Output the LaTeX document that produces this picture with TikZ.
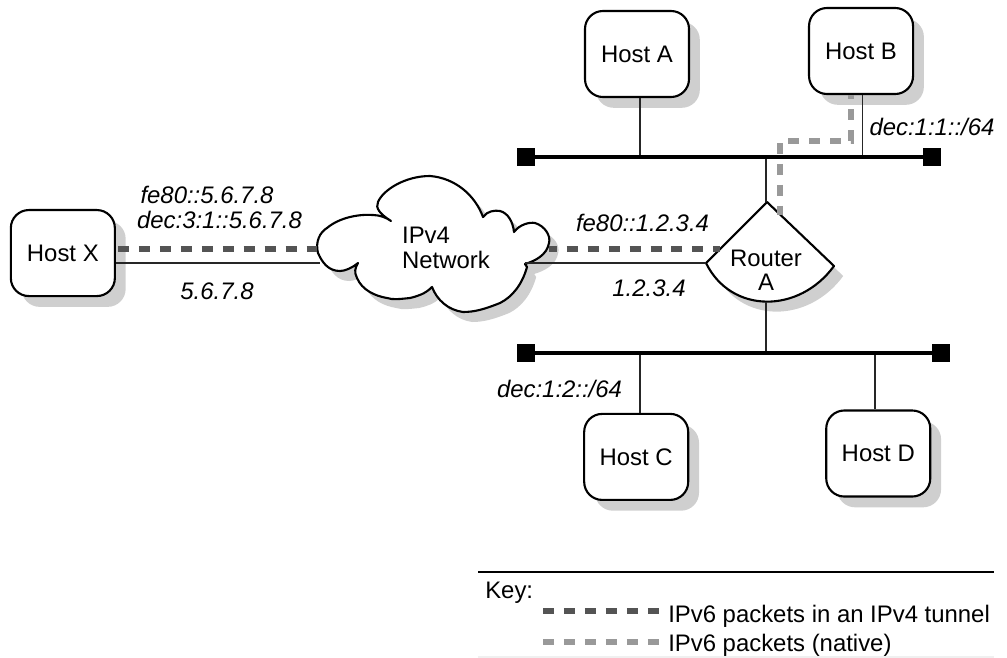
\documentclass[tikz,border=0pt]{standalone}
\usepackage{fontspec}
\setmainfont{Liberation Sans}
\usetikzlibrary{shadows, positioning}
\definecolor{shadowGrey}{gray}{0.81}
\definecolor{tunnelGrey}{gray}{0.33}
\definecolor{nativeGrey}{gray}{0.6}
\tikzset{%
  % Specifications for style of nodes:
    base/.style = {inner sep=0pt, font=\fontsize{17}{17.3}\selectfont, align=center},
    hostBox/.style = {base, rectangle, rounded corners=0.45cm, draw=black, fill=white, line width=1.5pt,
                   minimum width=2.6cm, minimum height=2.15cm,
                   general shadow={shadow xshift=0.27cm, shadow yshift=-0.27cm, fill=shadowGrey}},
    addr/.style = {base, font=\fontsize{17}{17.3}\selectfont\itshape},
    busEnd/.style = {rectangle, fill=black, inner sep=0pt, minimum size=0.46cm},
    keyText/.style = {base, anchor=base west},
  % Specifications for style of lines:
    wire/.style = {line width=0.75pt, black!85},
    busLine/.style = {line width=3.5pt},
    tunnel/.style = {line width=4.6pt, tunnelGrey, dash pattern=on 7.8pt off 7.1pt},
    native/.style = {line width=4.6pt, nativeGrey, dash pattern=on 7.8pt off 7.1pt},
    outline/.style = {draw=black, fill=white, line width=1.5pt, line join=round,
                   general shadow={shadow xshift=0.23cm, shadow yshift=-0.25cm, fill=shadowGrey}},
}
\begin{document}
\begin{tikzpicture}[x=0.025cm, y=-0.025cm, node distance=1.5cm]
  \useasboundingbox (0,0) rectangle (1007,658);

  \node (hostA)      [hostBox] at (637,54) {Host A};
  \node (hostB)      [hostBox, right of=hostA, xshift=4.1cm, yshift=0.075cm] {Host B};
  \node (hostC)      [hostBox, below of=hostA, xshift=-0.02cm, yshift=-8.57cm] {Host C};
  \node (hostD)      [hostBox, below of=hostB, xshift=0.43cm, yshift=-8.56cm] {Host D};
  \node (hostX)      [hostBox, left of=hostA, xshift=-12.85cm, yshift=-4.975cm] {Host X};

  \node (busAWest)   [busEnd] at (526,157) {};
  \node (busAEast)   [busEnd] at (932,157) {};
  \node (busBWest)   [busEnd] at (526,353) {};
  \node (busBEast)   [busEnd] at (941,353) {};

  \coordinate (routerTop) at (767,202);
  \coordinate (routerRight) at (834,266);
  \coordinate (routerLeft) at (706,263);
  \coordinate (routerBottom) at (766,302);
  \draw[outline] (routerTop) -- (routerRight)
     .. controls (799,314) and (731,314) .. (routerLeft) -- cycle;
  \node (routerA)    [base, below of=hostA, xshift=3.225cm, yshift=-3.91cm] {Router\\A};

  % Cloud outline
  \draw[outline] (391,221) .. controls (380,214) and (375,208) .. (378,202)
     .. controls (383,190) and (405,176) .. (430,176)
     .. controls (455,178) and (475,195) .. (483,217)
     .. controls (487,211) and (495,210) .. (500,211)
     .. controls (508,213) and (513,222) .. (514,232)
     .. controls (520,224) and (530,222) .. (535,223)
     .. controls (545,226) and (551,236) .. (549,243)
     .. controls (547,255) and (535,261) .. (525,264) -- (527,267)
     .. controls (522,285) and (512,297) .. (500,303)
     .. controls (485,309) and (475,312) .. (463,312)
     .. controls (448,310) and (437,300) .. (432,287)
     .. controls (425,294) and (418,296) .. (410,298)
     .. controls (400,299) and (393,300) .. (387,298)
     .. controls (375,296) and (362,290) .. (357,278)
     .. controls (354,272) and (355,268) .. (358,263)
     .. controls (352,268) and (345,271) .. (340,271)
     .. controls (328,271) and (322,262) .. (318,253)
     .. controls (315,242) and (320,232) .. (327,228)
     .. controls (340,217) and (360,214) .. (373,215)
     .. controls (380,215) and (387,218) .. (391,221) -- cycle;
  \node (ipvNetwork) [base, align=left, left of=hostA, xshift=-3.275cm, yshift=-4.85cm] {IPv4\\Network};

  \node (addrXLink)  [addr] at (207,195) {fe80::5.6.7.8};
  \node (addrXSite)  [addr] at (219.5,220) {dec:3:1::5.6.7.8};
  \node (addrXFour)  [addr] at (217,291) {5.6.7.8};
  \node (addrRLink)  [addr] at (642.5,223) {fe80::1.2.3.4};
  \node (addrRFour)  [addr] at (649,288) {1.2.3.4};
  \node (subnetA)    [addr] at (932,127) {dec:1:1::/64};
  \node (subnetB)    [addr] at (559.5,389) {dec:1:2::/64};

  \coordinate (auxNode1) at (640,157);
  \coordinate (auxNode2) at (862.7,157);
  \coordinate (auxNode3) at (640,353);
  \coordinate (auxNode4) at (875,353);
  \coordinate (auxNode5) at (320,263);
  \coordinate (auxNode6) at (525,263);
  \coordinate (auxNode7) at (118,249);
  \coordinate (auxNode8) at (317,249);
  \coordinate (auxNode9) at (549,249);
  \coordinate (auxNode10) at (719.5,249);
  \coordinate (auxNode11) at (851,141);
  \coordinate (auxNode12) at (780,141);
  \coordinate (auxNode13) at (780,215);

  % Specification of lines between nodes
  \draw[wire]    (hostA.south -| auxNode1) -- (auxNode1);
  \draw[wire]    (hostB.south -| auxNode2) -- (auxNode2);
  \draw[wire]    (auxNode3) -- (hostC.north -| auxNode3);
  \draw[wire]    (auxNode4) -- (hostD.north -| auxNode4);
  \draw[wire]    (routerTop -| routerBottom) -- (routerBottom |- busAWest);
  \draw[wire]    (routerBottom) -- (routerBottom |- busBWest);
  \draw[wire]    (hostX.east |- auxNode5) -- (auxNode5);
  \draw[wire]    (auxNode6) -- (auxNode6 -| routerLeft);
  \draw[tunnel]  (auxNode7) -- (auxNode8);
  \draw[tunnel, dash phase=2.3pt]  (auxNode9) -- (auxNode10);
  \draw[native, dash phase=4.8pt]  (hostB.south -| auxNode11) -- (auxNode11) -- (auxNode12) -- (auxNode13);
  \draw[busLine] (busAWest) -- (busAEast);
  \draw[busLine] (busBWest) -- (busBEast);

  % Key
  \node (keyTitle)   [keyText] at (485,598) {Key:};
  \node (keyTunnel)  [keyText] at (668,622) {IPv6 packets in an IPv4 tunnel};
  \node (keyNative)  [keyText] at (668,651) {IPv6 packets (native)};
  \coordinate (keyRuleL) at (478,572);
  \coordinate (keyRuleR) at (994,572);
  \coordinate (keyFootL) at (478,657);
  \coordinate (keyFootR) at (994,657);
  \coordinate (keyDashA) at (543,611);
  \coordinate (keyDashB) at (659,611);
  \coordinate (keyDashC) at (543,642);
  \coordinate (keyDashD) at (659,642);
  \draw[line width=1.5pt] (keyRuleL) -- (keyRuleR);
  \draw[line width=1pt, black!6] (keyFootL) -- (keyFootR);
  \draw[tunnel]  (keyDashA) -- (keyDashB);
  \draw[native]  (keyDashC) -- (keyDashD);
\end{tikzpicture}
\end{document}
